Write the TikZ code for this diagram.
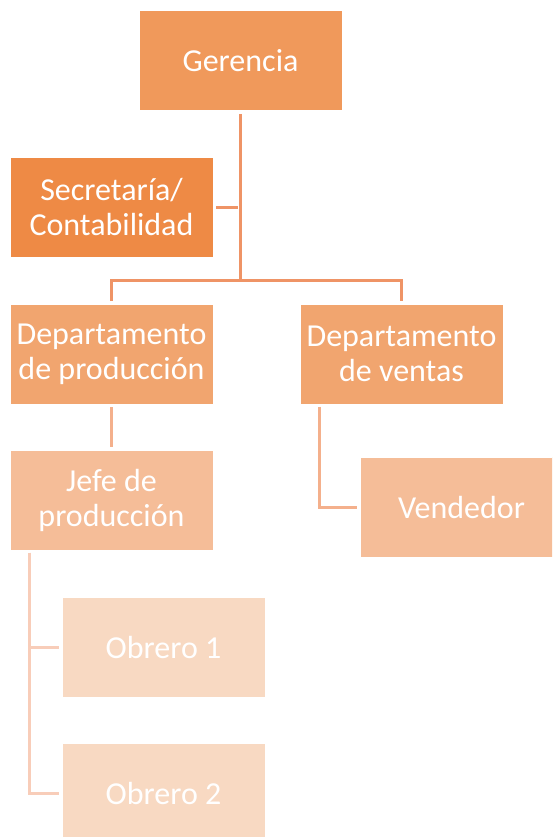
\documentclass[tikz,border=0pt]{standalone}
\usepackage{fontspec}
\setmainfont{Carlito}
\definecolor{cger}{HTML}{F0995B}
\definecolor{csec}{HTML}{EE8A45}
\definecolor{cdep}{HTML}{F1A56F}
\definecolor{cjef}{HTML}{F5BD98}
\definecolor{cobr}{HTML}{F8D9C2}
\definecolor{lone}{HTML}{EF9466}
\definecolor{ltwo}{HTML}{F4B08C}
\definecolor{lthree}{HTML}{F8CDB9}
\tikzset{
  box/.style={rectangle, draw=white, line width=1pt, minimum width=203pt, minimum height=100pt,
    inner sep=0pt, align=center, text=white, font=\fontsize{32}{35}\selectfont},
  conn/.style={line width=3pt, shorten <=2.5pt, shorten >=2.5pt},
}
\begin{document}
\begin{tikzpicture}[x=1pt,y=-1pt]
\useasboundingbox (0,0) rectangle (552,837);
\clip (0,0) rectangle (552,837);
\node[box, fill=cger] (ger) at (240.5,61) {Gerencia};
\node[box, fill=csec] (sec) at (111.5,207.5) {Secretaría/\\Contabilidad};
\node[box, fill=cdep] (dp) at (111.5,354) {Departamento\\de producción};
\node[box, fill=cdep] (dv) at (401.5,354) {Departamento\\de ventas};
\node[box, fill=cjef] (jefe) at (111.5,500) {Jefe de\\producción};
\node[box, fill=cjef] (vend) at (461.5,507) {Vendedor};
\node[box, fill=cobr] (ob1) at (163.5,647) {Obrero 1};
\node[box, fill=cobr] (ob2) at (163.5,793) {Obrero 2};
\coordinate (bus) at (240.5,280);
\coordinate (vv) at (319,404);
\coordinate (jj) at (29,550);
\draw[lone, line width=3pt, shorten <=2.5pt] (ger.south) -- (bus);
\draw[lone, conn] (sec.east) -- (sec.east -| bus);
\draw[lone, conn] (dp.north) -- (dp.north |- bus) -- (dv.north |- bus) -- (dv.north);
\draw[ltwo, conn] (dp.south) -- (jefe.north);
\draw[ltwo, conn] (vv) |- (vend.west);
\draw[lthree, conn] (jj) |- (ob1.west);
\draw[lthree, conn] (jj) |- (ob2.west);
\end{tikzpicture}
\end{document}
